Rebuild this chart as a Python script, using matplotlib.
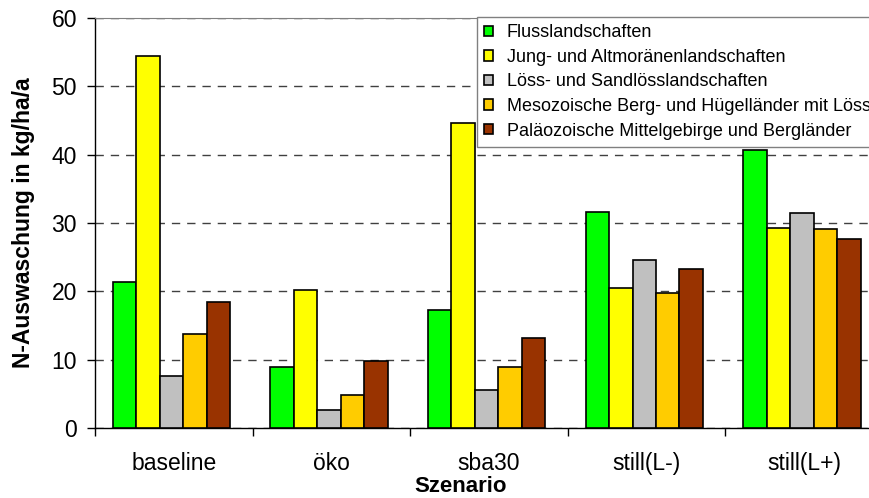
import numpy as np
import matplotlib.pyplot as plt

plt.rcParams['font.family'] = ['Liberation Sans', 'DejaVu Sans']

szenarien = ['baseline', 'öko', 'sba30', 'still(L-)', 'still(L+)']
landschaften = [
    'Flusslandschaften',
    'Jung- und Altmoränenlandschaften',
    'Löss- und Sandlösslandschaften',
    'Mesozoische Berg- und Hügelländer mit Löss',
    'Paläozoische Mittelgebirge und Bergländer',
]
fluss = [21.3, 8.9, 17.2, 31.6, 40.7]
jung_alt = [54.4, 20.2, 44.6, 20.5, 29.3]
loess = [7.6, 2.6, 5.6, 24.6, 31.4]
mesozoisch = [13.7, 4.8, 9.0, 19.8, 29.1]
palaeozoisch = [18.4, 9.8, 13.1, 23.3, 27.6]

werte = [fluss, jung_alt, loess, mesozoisch, palaeozoisch]
farben = ['#00FF00', '#FFFF00', '#C0C0C0', '#FFCC00', '#993300']

fig = plt.figure(figsize=(8.7, 4.98), dpi=100)
ax = fig.add_axes([95 / 870, 70 / 498, 788 / 870, 410 / 498])

x = np.arange(len(szenarien))
breite = 0.149
for i, (reihe, farbe, name) in enumerate(zip(werte, farben, landschaften)):
    ax.bar(x + (i - 2.1) * breite, reihe, width=breite, color=farbe,
           edgecolor='black', linewidth=1.2, label=name, zorder=3)

ax.set_xlim(-0.5, 4.5)
ax.set_ylim(0, 60)
ax.set_yticks(np.arange(0, 61, 10))
ax.yaxis.grid(True, linestyle=(0, (6, 5)), color='#404040', linewidth=1.0, zorder=0)
ax.set_axisbelow(True)

# Kategoriegrenzen als Haupt-Ticks, Beschriftung mittig
ax.set_xticks(np.arange(-0.5, 5.0, 1.0))
ax.set_xticklabels([])
ax.set_xticks(x, minor=True)
ax.set_xticklabels(szenarien, minor=True, fontsize=16.5)
ax.tick_params(axis='x', which='major', direction='out', length=6, width=1)
ax.tick_params(axis='x', which='minor', length=0, pad=17)
ax.tick_params(axis='y', direction='out', length=6, width=1, labelsize=16.5, pad=7)

for s in ['left', 'bottom']:
    ax.spines[s].set_color('black')
    ax.spines[s].set_linewidth(1)
ax.spines['top'].set_color('#808080')
ax.spines['right'].set_visible(False)

fig.text(24 / 870, 1 - 223 / 498, 'N-Auswaschung in kg/ha/a', rotation=90,
         ha='center', va='center', fontsize=16.5, fontweight='bold')
fig.text(461 / 870, 1 - 486 / 498, 'Szenario', ha='center', va='center',
         fontsize=16, fontweight='bold')

leg = fig.legend(loc='upper left', bbox_to_anchor=(477 / 870, 1 - 17 / 498),
                 fontsize=13, frameon=True, fancybox=False, framealpha=1,
                 edgecolor='#808080', handlelength=0.5, handleheight=0.5,
                 handletextpad=0.75, labelspacing=0.42, borderpad=0.4,
                 borderaxespad=0)
leg.get_frame().set_linewidth(1)

fig.savefig('out.png', dpi=100)
